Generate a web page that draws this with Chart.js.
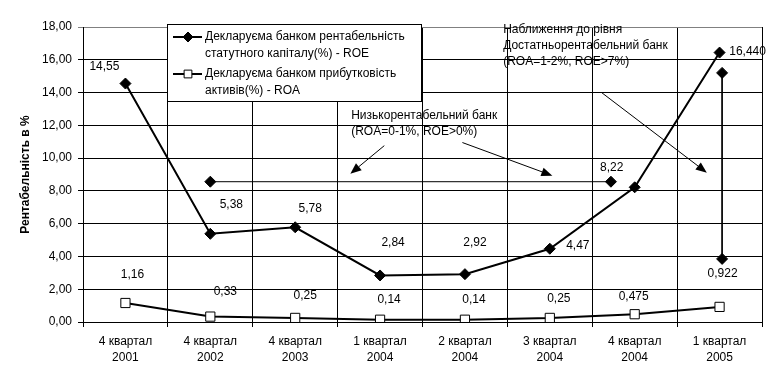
<!DOCTYPE html>
<html><head><meta charset="utf-8">
<script src="https://cdn.jsdelivr.net/npm/chart.js@4/dist/chart.umd.min.js"></script>
<style>html,body{margin:0;padding:0;background:#fff;}#wrap{width:779px;height:384px;}</style>
</head><body><div id="wrap"><canvas id="c" width="779" height="384"></canvas></div>
<script>
// ---- data ----
const categories = [['4 квартал','2001'],['4 квартал','2002'],['4 квартал','2003'],['1 квартал','2004'],['2 квартал','2004'],['3 квартал','2004'],['4 квартал','2004'],['1 квартал','2005']];
const roeValues = [14.55, 5.38, 5.78, 2.84, 2.92, 4.47, 8.22, 16.44];
const roaValues = [1.16, 0.33, 0.25, 0.14, 0.14, 0.25, 0.475, 0.922];
const roeLabels = ['14,55','5,38','5,78','2,84','2,92','4,47','8,22','16,440'];
const roaLabels = ['1,16','0,33','0,25','0,14','0,14','0,25','0,475','0,922'];
const roeName = ['Декларуєма банком рентабельність','статутного капіталу(%) - ROE'];
const roaName = ['Декларуєма банком прибутковість','активів(%) - ROA'];
const yAxisTitle = 'Рентабельність в %';
const yMin = 0, yMax = 18, yStep = 2;
// annotation marks (x in category index units, y in %)
const lowBandX = [1, 5.72];
const lowBandY = [8.56, 8.56];
const goodBandX = [7.03, 7.03];
const goodBandY = [15.2, 3.85];
const lowText = ['Низькорентабельний банк','(ROA=0-1%, ROE>0%)'];
const lowTextAt = {x: 2.66, y: 12.6};
const goodText = ['Наближення до рівня','Достатньорентабельний банк','(ROA=1-2%, ROE>7%)'];
const goodTextAt = {x: 4.45, y: 17.85};
const arrowFromX = [3.05, 3.97, 5.61];
const arrowFromY = [10.76, 10.95, 14.0];
const arrowToX = [2.65, 5.03, 6.85];
const arrowToY = [9.05, 8.93, 9.11];

// ---- styles (pixel offsets of value labels) ----
const roeLabelDX = [-21, 21, 15, 13, 10, 28, -23, 28];
const roeLabelDY = [-17, -29, -19, -33, -31, -3, -20, -1];
const roaLabelDX = [7, 15, 10, 9, 9, 9, -1, 3];
const roaLabelDY = [-28, -25, -22, -20, -20, -19, -18, -33];

const FONT = '"Liberation Sans", Arial, sans-serif';
Chart.defaults.color = '#000';
Chart.defaults.font.family = FONT;
Chart.defaults.font.size = 12;

function drawArrow(ctx, x1, y1, x2, y2) {
  const ang = Math.atan2(y2 - y1, x2 - x1);
  const L = 11, W = 4.5;
  const bx = x2 - L * Math.cos(ang), by = y2 - L * Math.sin(ang);
  ctx.beginPath(); ctx.moveTo(x1, y1); ctx.lineTo(bx, by); ctx.lineWidth = 1; ctx.strokeStyle = '#000'; ctx.stroke();
  ctx.beginPath();
  ctx.moveTo(x2, y2);
  ctx.lineTo(bx + W * Math.sin(ang), by - W * Math.cos(ang));
  ctx.lineTo(bx - W * Math.sin(ang), by + W * Math.cos(ang));
  ctx.closePath(); ctx.fillStyle = '#000'; ctx.fill();
}

const overlay = {
  id: 'overlay',
  afterDatasetsDraw(chart) {
    const ctx = chart.ctx;
    const xs = chart.scales.xa, ys = chart.scales.y;
    ctx.save();
    ctx.font = '12px ' + FONT;
    ctx.fillStyle = '#000';
    ctx.textAlign = 'center'; ctx.textBaseline = 'middle';
    // value labels
    const m0 = chart.getDatasetMeta(0), m1 = chart.getDatasetMeta(1);
    m0.data.forEach((p, i) => ctx.fillText(roeLabels[i], p.x + roeLabelDX[i], p.y + roeLabelDY[i]));
    m1.data.forEach((p, i) => ctx.fillText(roaLabels[i], p.x + roaLabelDX[i], p.y + roaLabelDY[i]));
    // annotation texts
    ctx.textAlign = 'left';
    lowText.forEach((t, i) => ctx.fillText(t, xs.getPixelForValue(lowTextAt.x), ys.getPixelForValue(lowTextAt.y) + i * 16));
    goodText.forEach((t, i) => ctx.fillText(t, xs.getPixelForValue(goodTextAt.x), ys.getPixelForValue(goodTextAt.y) + i * 16));
    // arrows
    for (let i = 0; i < arrowFromX.length; i++) {
      drawArrow(ctx, xs.getPixelForValue(arrowFromX[i]), ys.getPixelForValue(arrowFromY[i]),
                xs.getPixelForValue(arrowToX[i]), ys.getPixelForValue(arrowToY[i]));
    }
    // legend
    const bx = 167, by = 24, bw = 254, bh = 77;
    ctx.fillStyle = '#fff'; ctx.fillRect(bx, by, bw, bh);
    ctx.strokeStyle = '#000'; ctx.lineWidth = 1; ctx.strokeRect(bx + 0.5, by + 0.5, bw, bh);
    const rows = [{name: roeName, y: by + 13, style: 'rectRot', r: 5, fill: '#000'},
                  {name: roaName, y: by + 50, style: 'rect', r: 5.5, fill: '#fff'}];
    rows.forEach(row => {
      ctx.beginPath(); ctx.moveTo(173, row.y); ctx.lineTo(202, row.y);
      ctx.lineWidth = 2; ctx.strokeStyle = '#000'; ctx.stroke();
      ctx.fillStyle = row.fill; ctx.strokeStyle = '#000'; ctx.lineWidth = 1;
      Chart.helpers.drawPoint(ctx, {pointStyle: row.style, radius: row.r, borderWidth: 1}, 188, row.y);
      ctx.fillStyle = '#000'; ctx.textAlign = 'left';
      row.name.forEach((t, i) => ctx.fillText(t, 205, row.y + i * 17));
    });
    ctx.restore();
  }
};

new Chart(document.getElementById('c'), {
  type: 'line',
  data: {
    labels: categories,
    datasets: [
      {data: roeValues, borderColor: '#000', borderWidth: 2, pointStyle: 'rectRot', pointRadius: 5.5,
       pointBackgroundColor: '#000', pointBorderColor: '#000', pointBorderWidth: 1, tension: 0},
      {data: roaValues, borderColor: '#000', borderWidth: 2, pointStyle: 'rect', pointRadius: 6.5,
       pointBackgroundColor: '#fff', pointBorderColor: '#000', pointBorderWidth: 1, tension: 0},
      {data: lowBandX.map((x, i) => ({x, y: lowBandY[i]})), xAxisID: 'xa', borderColor: '#000', borderWidth: 1,
       pointStyle: 'rectRot', pointRadius: 5.5, pointBackgroundColor: '#000', pointBorderColor: '#000'},
      {data: goodBandX.map((x, i) => ({x, y: goodBandY[i]})), xAxisID: 'xa', borderColor: '#000', borderWidth: 1,
       pointStyle: 'rectRot', pointRadius: 5.5, pointBackgroundColor: '#000', pointBorderColor: '#000'}
    ]
  },
  options: {
    responsive: false, animation: false,
    layout: {padding: {top: 27, right: 17, left: 0, bottom: 0}},
    plugins: {legend: {display: false}, tooltip: {enabled: false}},
    scales: {
      x: {
        offset: true,
        grid: {offset: true, color: c => (c.index === categories.length ? '#808080' : '#000'), lineWidth: 1, tickLength: 5},
        border: {color: '#000'},
        ticks: {padding: 7, font: {size: 12, lineHeight: 16/12}, maxRotation: 0, autoSkip: false},
        afterFit: s => { s.height = 62; }
      },
      xa: {type: 'linear', display: false, min: -0.5, max: 7.5},
      y: {
        min: yMin, max: yMax,
        grid: {color: c => (c.tick && c.tick.value === yMax ? '#808080' : '#000'), lineWidth: 1, tickLength: 5},
        border: {color: '#000'},
        ticks: {stepSize: yStep, padding: 6, callback: v => v.toFixed(2).replace('.', ',')},
        title: {display: true, text: yAxisTitle, font: {size: 12, weight: 'bold'}, padding: {top: 18}},
        afterFit: s => { s.width = 83; }
      }
    }
  },
  plugins: [overlay]
});
</script></body></html>
